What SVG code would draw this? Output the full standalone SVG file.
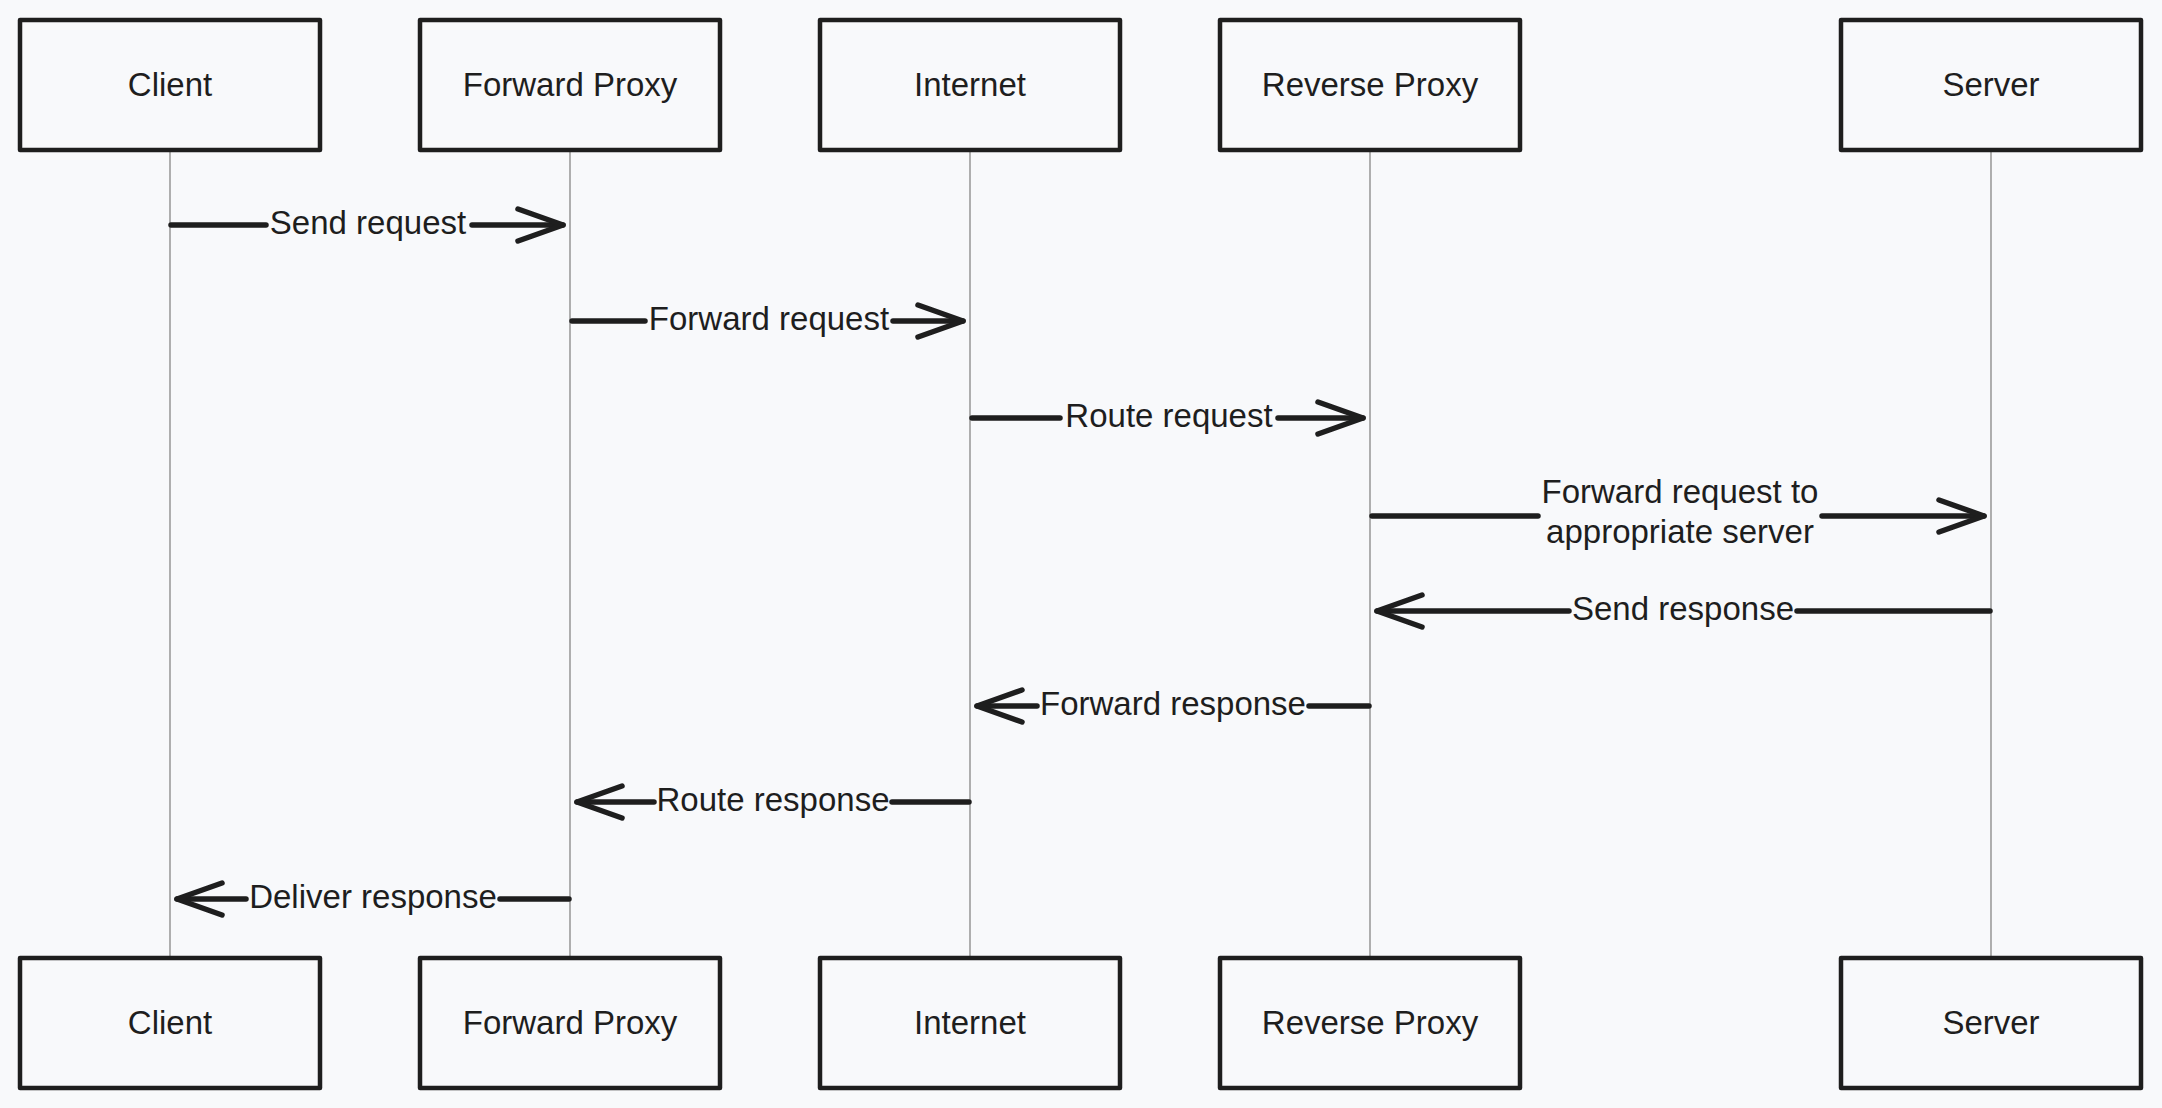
<svg xmlns="http://www.w3.org/2000/svg" width="2162" height="1108" viewBox="0 0 2162 1108">
  <style>
    .bg { fill: #f8f9fb; }
    .box { fill: #f8f9fb; stroke: #1e1e1e; stroke-width: 4.5; stroke-linejoin: round; }
    .lbl { font-family: "Liberation Sans", Arial, sans-serif; font-size: 33px; fill: #1e1e1e; text-anchor: middle; }
    .life { stroke: #9c9c9c; stroke-width: 1.6; fill: none; }
    .msg { stroke: #1e1e1e; stroke-width: 5.5; fill: none; stroke-linecap: round; }
    .mtxt { font-family: "Liberation Sans", Arial, sans-serif; font-size: 33px; fill: #1e1e1e; text-anchor: middle; }
  </style>
  <defs>
    <marker id="ah" markerUnits="userSpaceOnUse" markerWidth="64" markerHeight="48" viewBox="-54 -24 64 48" refX="0" refY="0" orient="auto" overflow="visible">
      <path d="M-45,-16 L0,0 L-45,16" fill="none" stroke="#1e1e1e" stroke-width="5.5" stroke-linecap="round" stroke-linejoin="round"/>
    </marker>
  </defs>
  <rect class="bg" x="0" y="0" width="2162" height="1108"/>

  <g id="lifelines">
    <line class="life" x1="170" y1="152" x2="170" y2="956"/>
    <line class="life" x1="570" y1="152" x2="570" y2="956"/>
    <line class="life" x1="970" y1="152" x2="970" y2="956"/>
    <line class="life" x1="1370" y1="152" x2="1370" y2="956"/>
    <line class="life" x1="1991" y1="152" x2="1991" y2="956"/>
  </g>

  <g id="client-top"><rect class="box" x="20" y="20" width="300" height="130"/><text class="lbl" x="170" y="96">Client</text></g>
  <g id="fproxy-top"><rect class="box" x="420" y="20" width="300" height="130"/><text class="lbl" x="570" y="96">Forward Proxy</text></g>
  <g id="internet-top"><rect class="box" x="820" y="20" width="300" height="130"/><text class="lbl" x="970" y="96">Internet</text></g>
  <g id="rproxy-top"><rect class="box" x="1220" y="20" width="300" height="130"/><text class="lbl" x="1370" y="96">Reverse Proxy</text></g>
  <g id="server-top"><rect class="box" x="1841" y="20" width="300" height="130"/><text class="lbl" x="1991" y="96">Server</text></g>

  <g id="client-bottom"><rect class="box" x="20" y="958" width="300" height="130"/><text class="lbl" x="170" y="1034">Client</text></g>
  <g id="fproxy-bottom"><rect class="box" x="420" y="958" width="300" height="130"/><text class="lbl" x="570" y="1034">Forward Proxy</text></g>
  <g id="internet-bottom"><rect class="box" x="820" y="958" width="300" height="130"/><text class="lbl" x="970" y="1034">Internet</text></g>
  <g id="rproxy-bottom"><rect class="box" x="1220" y="958" width="300" height="130"/><text class="lbl" x="1370" y="1034">Reverse Proxy</text></g>
  <g id="server-bottom"><rect class="box" x="1841" y="958" width="300" height="130"/><text class="lbl" x="1991" y="1034">Server</text></g>

  <g id="connectors">
    <path class="msg" d="M171,225 L266,225"/>
    <path class="msg" d="M472,225 L563,225" marker-end="url(#ah)"/>
    <text class="mtxt" x="368" y="234">Send request</text>

    <path class="msg" d="M572,321 L645,321"/>
    <path class="msg" d="M893,321 L963,321" marker-end="url(#ah)"/>
    <text class="mtxt" x="769" y="330">Forward request</text>

    <path class="msg" d="M972,418 L1060,418"/>
    <path class="msg" d="M1278,418 L1363,418" marker-end="url(#ah)"/>
    <text class="mtxt" x="1169" y="427">Route request</text>

    <path class="msg" d="M1372,516 L1538,516"/>
    <path class="msg" d="M1822,516 L1984,516" marker-end="url(#ah)"/>
    <text class="mtxt" x="1680" y="503">Forward request to</text>
    <text class="mtxt" x="1680" y="543">appropriate server</text>

    <path class="msg" d="M1990,611 L1797,611"/>
    <path class="msg" d="M1569,611 L1377,611" marker-end="url(#ah)"/>
    <text class="mtxt" x="1683" y="620">Send response</text>

    <path class="msg" d="M1369,706 L1309,706"/>
    <path class="msg" d="M1037,706 L977,706" marker-end="url(#ah)"/>
    <text class="mtxt" x="1173" y="715">Forward response</text>

    <path class="msg" d="M969,802 L892,802"/>
    <path class="msg" d="M654,802 L577,802" marker-end="url(#ah)"/>
    <text class="mtxt" x="773" y="811">Route response</text>

    <path class="msg" d="M569,899 L500,899"/>
    <path class="msg" d="M246,899 L177,899" marker-end="url(#ah)"/>
    <text class="mtxt" x="373" y="908">Deliver response</text>
  </g>
</svg>
